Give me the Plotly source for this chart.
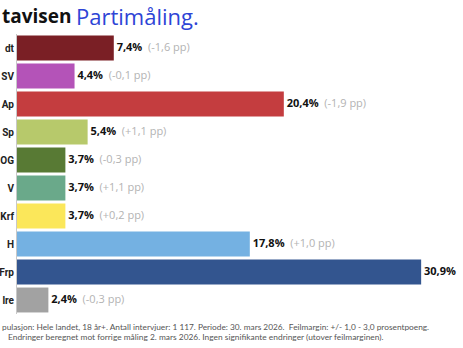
import plotly.graph_objects as go

# party labels as they appear (left edge of the reference is cropped)
parties = ["dt", "SV", "Ap", "Sp", "OG", "V", "Krf", "H", "Frp", "lre"]
values = [7.4, 4.4, 20.4, 5.4, 3.7, 3.7, 3.7, 17.8, 30.9, 2.4]
changes = ["(-1,6 pp)", "(-0,1 pp)", "(-1,9 pp)", "(+1,1 pp)", "(-0,3 pp)",
           "(+1,1 pp)", "(+0,2 pp)", "(+1,0 pp)", "", "(-0,3 pp)"]
colors = ["#7a1f25", "#b453b8", "#c43d3f", "#b7c96b", "#587a34",
          "#6aa98a", "#fbe75a", "#74b1e2", "#33558f", "#a2a2a2"]

title_bold = "tavisen"
title_blue = "Partimåling."
foot1 = "pulasjon: Hele landet, 18 år+. Antall intervjuer: 1 117. Periode: 30. mars 2026.  Feilmargin: +/- 1,0 - 3,0 prosentpoeng."
foot2 = "Endringer beregnet mot forrige måling 2. mars 2026. Ingen signifikante endringer (utover feilmarginen)."

W, H = 463, 348
ML, MR, MT, MB = 17, 0, 34, 34
XMAX = 34.1

labels = []
for v, c in zip(values, changes):
    t = "<b>&nbsp;" + f"{v:.1f}".replace(".", ",") + "%</b>"
    if c:
        t += "&nbsp;&nbsp;<span style='color:#b3b3b3'>" + c + "</span>"
    labels.append(t)

fig = go.Figure()
fig.add_trace(go.Bar(
    y=parties, x=values, orientation="h",
    marker=dict(color=colors, line=dict(width=0)),
    hoverinfo="skip", showlegend=False,
))
fig.add_trace(go.Scatter(
    y=parties, x=values, mode="text", text=labels,
    textposition="middle right", cliponaxis=False,
    textfont=dict(family="Open Sans", size=11, color="#111111"),
    hoverinfo="skip", showlegend=False,
))

pw = W - ML - MR
ph = H - MT - MB
def px_x(px):
    return (px - ML) / pw
def px_y(py):
    return (H - MB - py) / ph

fig.add_annotation(xref="paper", yref="paper", x=px_x(0), y=px_y(16),
                   xanchor="left", yanchor="middle", showarrow=False,
                   text="<b>" + title_bold + "</b>",
                   font=dict(family="Open Sans", size=19, color="#111111"))
fig.add_annotation(xref="paper", yref="paper", x=px_x(74), y=px_y(16),
                   xanchor="left", yanchor="middle", showarrow=False,
                   text=title_blue,
                   font=dict(family="Open Sans", size=22, color="#2e44d6"))
fig.add_annotation(xref="paper", yref="paper", x=px_x(0), y=px_y(327),
                   xanchor="left", yanchor="middle", showarrow=False,
                   text=foot1, font=dict(family="Lato", size=8.3, color="#555555"))
fig.add_annotation(xref="paper", yref="paper", x=px_x(196), y=px_y(337),
                   xanchor="center", yanchor="middle", showarrow=False,
                   text=foot2, font=dict(family="Lato", size=8.4, color="#555555"))

fig.update_layout(
    width=W, height=H,
    margin=dict(l=ML, r=MR, t=MT, b=MB, autoexpand=False),
    paper_bgcolor="white", plot_bgcolor="white",
    bargap=0.11,
    xaxis=dict(range=[0, XMAX], visible=False, fixedrange=True),
    yaxis=dict(type="category", autorange="reversed", automargin=False,
               showline=True, linecolor="#c8c8c8", linewidth=1,
               showgrid=False, ticks="", ticklabelstandoff=0,
               tickfont=dict(family="Roboto", size=10, color="#222222", weight="bold")),
)

fig.write_html("out.html")
